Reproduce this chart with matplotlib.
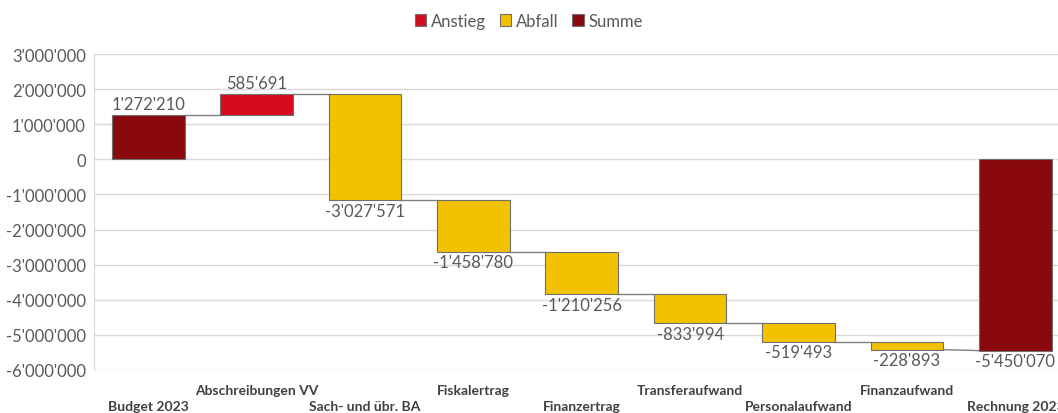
import matplotlib.pyplot as plt
import numpy as np
from matplotlib.patches import Patch
from matplotlib.ticker import FuncFormatter

plt.rcParams['font.family'] = ['Lato', 'DejaVu Sans']

categories = ["Budget 2023", "Abschreibungen VV", "Sach- und übr. BA", "Fiskalertrag",
              "Finanzertrag", "Transferaufwand", "Personalaufwand", "Finanzaufwand",
              "Rechnung 2023"]
values = [1272210, 585691, -3027571, -1458780, -1210256, -833994, -519493, -228893, -5450070]
kinds = ["Summe", "Anstieg", "Abfall", "Abfall", "Abfall", "Abfall", "Abfall", "Abfall", "Summe"]

colors = {"Anstieg": "#D50C20", "Abfall": "#F2C200", "Summe": "#8A090C"}


def swiss(v, _=None):
    s = f"{abs(int(round(v))):,}".replace(",", "'")
    return ("-" if v < 0 else "") + s


# bar bottoms / tops
starts, ends = [], []
running = 0
for v, k in zip(values, kinds):
    if k == "Summe":
        s, e = 0, v
        running = v
    else:
        s, e = running, running + v
        running = e
    starts.append(s)
    ends.append(e)

fig = plt.figure(figsize=(10.58, 4.14), dpi=100)
ax = fig.add_axes([0.0889, 0.104, 0.922, 0.763])

x = np.arange(len(categories))
width = 0.67
for i in x:
    lo, hi = min(starts[i], ends[i]), max(starts[i], ends[i])
    ax.bar(i, hi - lo, bottom=lo, width=width, color=colors[kinds[i]],
           edgecolor="#6f6f6f", linewidth=0.8, zorder=3)

# connectors
for i in range(len(x) - 1):
    y0 = ends[i]
    y1 = ends[i + 1] if kinds[i + 1] == "Summe" else starts[i + 1]
    ax.plot([i + width / 2, i + 1 - width / 2], [y0, y1], color="#7f7f7f",
            linewidth=1.0, zorder=2)

# value labels
for i, v in enumerate(values):
    top = max(starts[i], ends[i])
    bot = min(starts[i], ends[i])
    if v >= 0:
        ax.annotate(swiss(v), (i, top), xytext=(0, 2), textcoords="offset points",
                    ha="center", va="bottom", fontsize=12, color="#595959")
    else:
        ax.annotate(swiss(v), (i, bot), xytext=(0, -2), textcoords="offset points",
                    ha="center", va="top", fontsize=12, color="#595959")

ax.set_xlim(-0.5, len(categories) - 0.5)
ax.set_ylim(-6000000, 3000000)
ax.set_yticks(np.arange(-6000000, 3000001, 1000000))
ax.yaxis.set_major_formatter(FuncFormatter(swiss))
ax.tick_params(axis="y", length=0, labelsize=12, labelcolor="#595959", pad=6)

ax.set_xticks(x)
ax.set_xticklabels([c if i % 2 else "\n" + c for i, c in enumerate(categories)],
                   fontsize=10, fontweight="bold", color="#404040", linespacing=1.45)
ax.tick_params(axis="x", length=0, pad=10)

ax.grid(axis="y", color="#d9d9d9", linewidth=1.0, zorder=0)
for side in ["top", "right", "bottom"]:
    ax.spines[side].set_visible(False)
ax.spines["left"].set_color("#d9d9d9")

handles = [Patch(facecolor=colors[k], edgecolor="#6f6f6f", linewidth=0.8, label=k)
           for k in ["Anstieg", "Abfall", "Summe"]]
fig.legend(handles=handles, loc="center", bbox_to_anchor=(0.5, 0.948), ncol=3,
           frameon=False, fontsize=12, handlelength=0.7, handleheight=0.7,
           handletextpad=0.3, columnspacing=0.8, labelcolor="#595959")

fig.savefig("out.png", dpi=100)
